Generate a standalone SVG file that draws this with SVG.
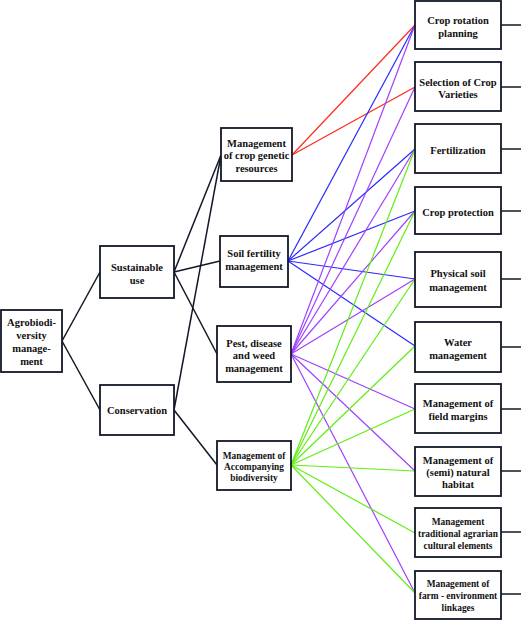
<svg xmlns="http://www.w3.org/2000/svg" width="521" height="620" viewBox="0 0 521 620">
<style>
.box{fill:#fff;stroke:#111827;stroke-width:1.8}
.t{font-family:'Liberation Serif','Times New Roman','DejaVu Serif',serif;font-weight:700;font-size:10.5px;fill:#111;text-anchor:middle}
.s{font-size:9.4px}
.k{stroke:#111827;stroke-width:1.5;fill:none}
.r{stroke:#ff2a1a;stroke-width:1.2}
.b{stroke:#2a2aff;stroke-width:1.2}
.p{stroke:#a040ff;stroke-width:1.2}
.g{stroke:#60ee10;stroke-width:1.2}
</style>
<rect width="521" height="620" fill="#fff"/>
<g id="connectors">
<g class="k">
<line x1="62" y1="341" x2="100" y2="272"/>
<line x1="62" y1="341" x2="100" y2="410"/>
<line x1="174" y1="272" x2="221" y2="155"/>
<line x1="174" y1="272" x2="220" y2="261"/>
<line x1="174" y1="272" x2="217" y2="354"/>
<line x1="174" y1="410" x2="221" y2="155"/>
<line x1="174" y1="410" x2="217" y2="465"/>
<line x1="501" y1="25" x2="521" y2="25"/>
<line x1="501" y1="87" x2="521" y2="87"/>
<line x1="501" y1="149" x2="521" y2="149"/>
<line x1="501" y1="211" x2="521" y2="211"/>
<line x1="501" y1="279" x2="521" y2="279"/>
<line x1="501" y1="347" x2="521" y2="347"/>
<line x1="501" y1="409" x2="521" y2="409"/>
<line x1="501" y1="471" x2="521" y2="471"/>
<line x1="501" y1="532" x2="521" y2="532"/>
<line x1="501" y1="594" x2="521" y2="594"/>
</g>
<g class="r">
<line x1="292" y1="155" x2="415" y2="25"/>
<line x1="292" y1="155" x2="415" y2="87"/>
</g>
<g class="b">
<line x1="288" y1="261" x2="415" y2="25"/>
<line x1="288" y1="261" x2="415" y2="149"/>
<line x1="288" y1="261" x2="415" y2="211"/>
<line x1="288" y1="261" x2="415" y2="279"/>
<line x1="288" y1="261" x2="415" y2="346"/>
</g>
<g class="p">
<line x1="291" y1="354" x2="415" y2="25"/>
<line x1="291" y1="354" x2="415" y2="87"/>
<line x1="291" y1="354" x2="415" y2="149"/>
<line x1="291" y1="354" x2="415" y2="211"/>
<line x1="291" y1="354" x2="415" y2="279"/>
<line x1="291" y1="354" x2="415" y2="409"/>
<line x1="291" y1="354" x2="415" y2="471"/>
<line x1="291" y1="354" x2="415" y2="593"/>
</g>
<g class="g">
<line x1="291" y1="465" x2="415" y2="149"/>
<line x1="291" y1="465" x2="415" y2="211"/>
<line x1="291" y1="465" x2="415" y2="279"/>
<line x1="291" y1="465" x2="415" y2="346"/>
<line x1="291" y1="465" x2="415" y2="409"/>
<line x1="291" y1="465" x2="415" y2="471"/>
<line x1="291" y1="465" x2="415" y2="533"/>
<line x1="291" y1="465" x2="415" y2="593"/>
</g>
</g>
<g id="agro"><rect class="box" x="1" y="310" width="61" height="62"/>
<text class="t" x="31.5" y="326">Agrobiodi-</text><text class="t" x="31.5" y="339">versity</text><text class="t" x="31.5" y="352">manage-</text><text class="t" x="31.5" y="365">ment</text></g>
<g id="sustainable"><rect class="box" x="100" y="246" width="74" height="52"/>
<text class="t" x="137" y="271">Sustainable</text><text class="t" x="137" y="284">use</text></g>
<g id="conservation"><rect class="box" x="100" y="385" width="74" height="50"/>
<text class="t" x="137" y="414">Conservation</text></g>
<g id="cropgenetic"><rect class="box" x="221" y="128" width="71" height="53"/>
<text class="t" x="256.5" y="147">Management</text><text class="t" x="256.5" y="159">of crop genetic</text><text class="t" x="256.5" y="172">resources</text></g>
<g id="soil"><rect class="box" x="220" y="236" width="68" height="51"/>
<text class="t" x="254" y="257">Soil fertility</text><text class="t" x="254" y="270">management</text></g>
<g id="pest"><rect class="box" x="217" y="326" width="74" height="56"/>
<text class="t" x="254" y="347">Pest, disease</text><text class="t" x="254" y="359">and weed</text><text class="t" x="254" y="372">management</text></g>
<g id="accompanying"><rect class="box" x="217" y="441" width="74" height="49"/>
<text class="t s" x="254" y="459">Management of</text><text class="t s" x="254" y="470">Accompanying</text><text class="t s" x="254" y="481">biodiversity</text></g>
<g id="croprotation"><rect class="box" x="415" y="1" width="86" height="48"/>
<text class="t" x="458" y="24">Crop rotation</text><text class="t" x="458" y="37">planning</text></g>
<g id="selection"><rect class="box" x="415" y="62" width="86" height="49"/>
<text class="t" x="458" y="86">Selection of Crop</text><text class="t" x="458" y="98">Varieties</text></g>
<g id="fertilization"><rect class="box" x="415" y="124" width="86" height="49"/>
<text class="t" x="458" y="154">Fertilization</text></g>
<g id="cropprotection"><rect class="box" x="415" y="187" width="86" height="47"/>
<text class="t" x="458" y="216">Crop protection</text></g>
<g id="physical"><rect class="box" x="415" y="252" width="86" height="55"/>
<text class="t" x="458" y="277">Physical soil</text><text class="t" x="458" y="291">management</text></g>
<g id="water"><rect class="box" x="415" y="322" width="86" height="50"/>
<text class="t" x="458" y="346">Water</text><text class="t" x="458" y="359">management</text></g>
<g id="fieldmargins"><rect class="box" x="415" y="384" width="86" height="49"/>
<text class="t" x="458" y="407">Management of</text><text class="t" x="458" y="420">field margins</text></g>
<g id="seminatural"><rect class="box" x="415" y="447" width="86" height="49"/>
<text class="t" x="458" y="464">Management of</text><text class="t" x="458" y="476">(semi) natural</text><text class="t" x="458" y="488">habitat</text></g>
<g id="traditional"><rect class="box" x="415" y="508" width="86" height="49"/>
<text class="t s" x="458" y="525">Management</text><text class="t s" x="458" y="537">traditional agrarian</text><text class="t s" x="458" y="549">cultural elements</text></g>
<g id="farm"><rect class="box" x="415" y="571" width="86" height="48"/>
<text class="t s" x="458" y="587">Management of</text><text class="t s" x="458" y="599">farm - environment</text><text class="t s" x="458" y="611">linkages</text></g>
</svg>
